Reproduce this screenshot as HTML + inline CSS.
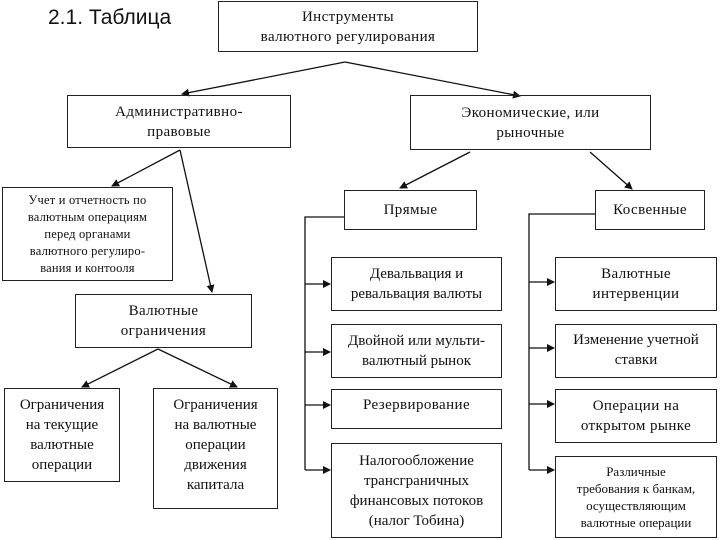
<!DOCTYPE html>
<html><head><meta charset="utf-8"><style>
body{margin:0;width:720px;height:540px;background:#fff;overflow:hidden;position:relative;font-family:"Liberation Serif",serif;color:#111}
.b{position:absolute;border:1.5px solid #222;box-sizing:border-box;display:flex;align-items:center;justify-content:center;text-align:center;font-size:15px;line-height:20px;letter-spacing:0.4px;white-space:nowrap}
svg{position:absolute;left:0;top:0}
</style></head><body>
<svg width="720" height="540">
<defs><marker id="a" markerWidth="8" markerHeight="8" refX="7" refY="4" orient="auto" markerUnits="userSpaceOnUse"><path d="M0,0L8,4L0,8z" fill="#111"/></marker></defs>
<g stroke="#111" stroke-width="1.3" fill="none">
<line x1="345" y1="62" x2="182" y2="94" marker-end="url(#a)"/>
<line x1="345" y1="62" x2="520" y2="96" marker-end="url(#a)"/>
<line x1="180" y1="150" x2="112" y2="186" marker-end="url(#a)"/>
<line x1="180" y1="150" x2="212" y2="292" marker-end="url(#a)"/>
<line x1="158" y1="349" x2="82" y2="387" marker-end="url(#a)"/>
<line x1="158" y1="349" x2="237" y2="387" marker-end="url(#a)"/>
<line x1="470" y1="152" x2="400" y2="188" marker-end="url(#a)"/>
<line x1="590" y1="152" x2="632" y2="189" marker-end="url(#a)"/>
<polyline points="344,217 305,217 305,470"/>
<line x1="305" y1="284" x2="330" y2="284" marker-end="url(#a)"/>
<line x1="305" y1="352" x2="330" y2="352" marker-end="url(#a)"/>
<line x1="305" y1="405" x2="330" y2="405" marker-end="url(#a)"/>
<line x1="305" y1="470" x2="330" y2="470" marker-end="url(#a)"/>
<polyline points="595,214 529,214 529,470"/>
<line x1="529" y1="282" x2="554" y2="282" marker-end="url(#a)"/>
<line x1="529" y1="348" x2="554" y2="348" marker-end="url(#a)"/>
<line x1="529" y1="404" x2="554" y2="404" marker-end="url(#a)"/>
<line x1="529" y1="470" x2="554" y2="470" marker-end="url(#a)"/>
</g></svg>
<div style="position:absolute;left:48px;top:6px;font-family:'Liberation Sans',sans-serif;font-size:21px">2.1. Таблица</div>
<div class="b" style="left:218px;top:1px;width:260px;height:51px">Инструменты<br>валютного регулирования</div>
<div class="b" style="left:67px;top:95px;width:224px;height:53px">Административно-<br>правовые</div>
<div class="b" style="left:410px;top:95px;width:241px;height:55px">Экономические, или<br>рыночные</div>
<div class="b" style="left:2px;top:187px;width:171px;height:94px;font-size:12.5px;line-height:17px;letter-spacing:0.2px">Учет и отчетность по<br>валютным операциям<br>перед органами<br>валютного регулиро-<br>вания и контооля</div>
<div class="b" style="left:75px;top:294px;width:177px;height:54px">Валютные<br>ограничения</div>
<div class="b" style="left:4px;top:388px;width:116px;height:94px;align-items:flex-start;padding-top:6px;letter-spacing:0">Ограничения<br>на текущие<br>валютные<br>операции</div>
<div class="b" style="left:153px;top:388px;width:125px;height:121px;align-items:flex-start;padding-top:6px;letter-spacing:0">Ограничения<br>на валютные<br>операции<br>движения<br>капитала</div>
<div class="b" style="left:344px;top:190px;width:133px;height:40px">Прямые</div>
<div class="b" style="left:595px;top:190px;width:110px;height:40px">Косвенные</div>
<div class="b" style="left:331px;top:257px;width:171px;height:54px;letter-spacing:0">Девальвация и<br>ревальвация валюты</div>
<div class="b" style="left:331px;top:324px;width:171px;height:54px;letter-spacing:0">Двойной или мульти-<br>валютный рынок</div>
<div class="b" style="left:331px;top:389px;width:171px;height:40px;align-items:flex-start;padding-top:5px">Резервирование</div>
<div class="b" style="left:331px;top:443px;width:171px;height:95px;letter-spacing:0">Налогообложение<br>трансграничных<br>финансовых потоков<br>(налог Тобина)</div>
<div class="b" style="left:555px;top:257px;width:162px;height:54px">Валютные<br>интервенции</div>
<div class="b" style="left:555px;top:324px;width:162px;height:54px;align-items:flex-start;padding-top:5px;letter-spacing:0">Изменение учетной<br>ставки</div>
<div class="b" style="left:555px;top:389px;width:162px;height:54px">Операции на<br>открытом рынке</div>
<div class="b" style="left:555px;top:456px;width:162px;height:82px;font-size:13px;line-height:17px;letter-spacing:0">Различные<br>требования к банкам,<br>осуществляющим<br>валютные операции</div>
</body></html>
